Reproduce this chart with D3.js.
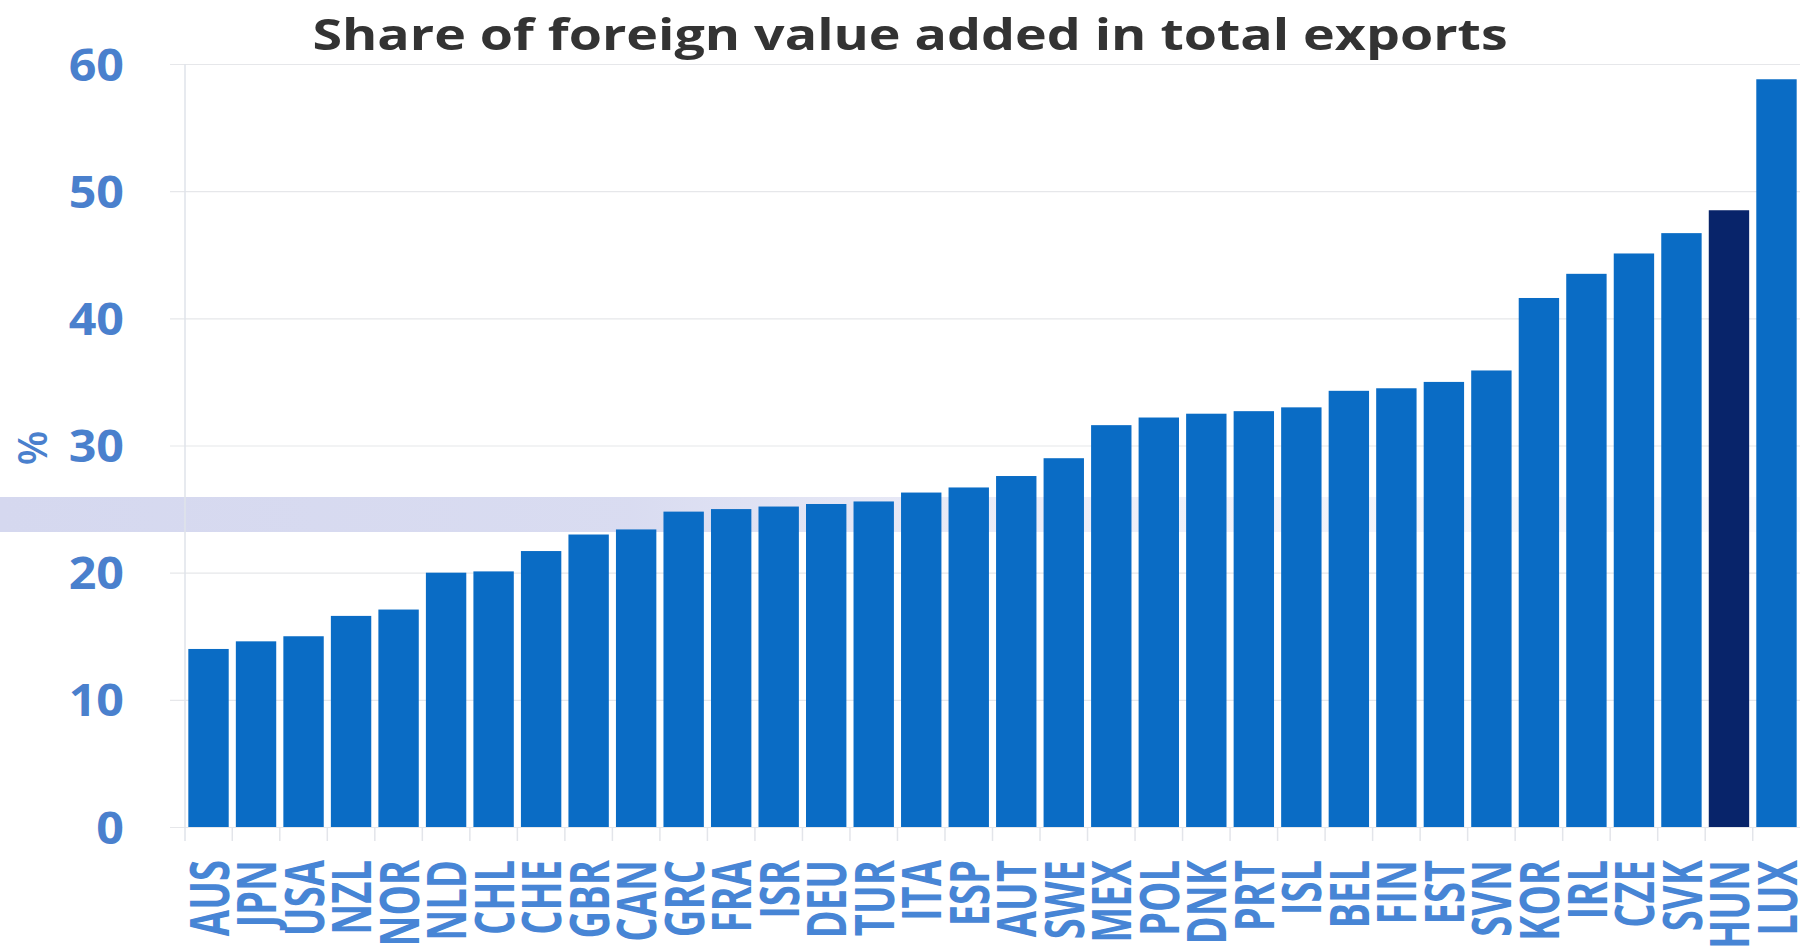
<!DOCTYPE html>
<html>
<head>
<meta charset="utf-8">
<script src="https://cdn.jsdelivr.net/npm/d3@7"></script>
<style>
  html, body { margin: 0; padding: 0; background: #ffffff; }
  svg { display: block; }
</style>
</head>
<body>
<svg id="chart" width="1800" height="948"></svg>
<script>
// Foreign value added as a share of gross exports, by country (%)
const countries = ["AUS","JPN","USA","NZL","NOR","NLD","CHL","CHE","GBR","CAN",
  "GRC","FRA","ISR","DEU","TUR","ITA","ESP","AUT","SWE","MEX",
  "POL","DNK","PRT","ISL","BEL","FIN","EST","SVN","KOR","IRL",
  "CZE","SVK","HUN","LUX"];
const shares = [14.0, 14.6, 15.0, 16.6, 17.1, 20.0, 20.1, 21.7, 23.0, 23.4,
  24.8, 25.0, 25.2, 25.4, 25.6, 26.3, 26.7, 27.6, 29.0, 31.6,
  32.2, 32.5, 32.7, 33.0, 34.3, 34.5, 35.0, 35.9, 41.6, 43.5,
  45.1, 46.7, 48.5, 58.8];
const highlighted = ["HUN"];
const yTicks = [0, 10, 20, 30, 40, 50, 60];
const titleText = "Share of foreign value added in total exports";
const yUnit = "%";

(function draw() {
  const W = 1800, H = 948;
  const pLeft = 185, pRight = 1800, pTop = 64, pBottom = 827;
  const labelBlue = "#4a80cd";
  const font = "'Open Sans', 'Noto Sans', sans-serif";

  const svg = d3.select("#chart");

  const x = d3.scaleBand().domain(countries).range([pLeft, pRight])
    .paddingInner(0.15).paddingOuter(0.07);
  const y = d3.scaleLinear().domain([0, 60]).range([pBottom, pTop]);

  // soft lavender highlight strip across the chart, fading to the right
  const defs = svg.append("defs");
  const grad = defs.append("linearGradient").attr("id", "strip")
    .attr("x1", 0).attr("x2", 1).attr("y1", 0).attr("y2", 0);
  grad.append("stop").attr("offset", "0%").attr("stop-color", "#d5d8ef").attr("stop-opacity", 1);
  grad.append("stop").attr("offset", "35%").attr("stop-color", "#d7daf0").attr("stop-opacity", 0.95);
  grad.append("stop").attr("offset", "55%").attr("stop-color", "#dadcf1").attr("stop-opacity", 0.55);
  grad.append("stop").attr("offset", "80%").attr("stop-color", "#dee0f3").attr("stop-opacity", 0.3);
  grad.append("stop").attr("offset", "100%").attr("stop-color", "#e2e4f4").attr("stop-opacity", 0.15);
  svg.append("rect").attr("x", 0).attr("y", 497).attr("width", W).attr("height", 35)
    .attr("fill", "url(#strip)");

  // horizontal gridlines
  const grid = svg.append("g").attr("transform", `translate(${pLeft - 15},0)`)
    .call(d3.axisLeft(y).tickValues(yTicks).tickSize(-(pRight - pLeft + 15)).tickFormat(""));
  grid.select(".domain").remove();
  grid.selectAll(".tick line").attr("stroke", "#e6e7ea").attr("stroke-width", 1.2);

  // vertical axis line
  svg.append("line").attr("x1", pLeft).attr("x2", pLeft).attr("y1", pTop).attr("y2", pBottom + 14)
    .attr("stroke", "#dfe3ea").attr("stroke-width", 1.5);

  // category separators under the baseline
  const half = x.step() * x.paddingInner() / 2;
  svg.append("g").selectAll("line").data(countries.slice(1))
    .join("line")
    .attr("x1", d => x(d) - half).attr("x2", d => x(d) - half)
    .attr("y1", pBottom).attr("y2", pBottom + 14)
    .attr("stroke", "#e3e5ea").attr("stroke-width", 1.5);

  // bars
  svg.append("g").selectAll("rect").data(countries)
    .join("rect")
    .attr("x", d => x(d))
    .attr("width", x.bandwidth())
    .attr("y", (d, i) => y(shares[i]))
    .attr("height", (d, i) => y(0) - y(shares[i]))
    .attr("fill", d => highlighted.includes(d) ? "#08246a" : "#0a6cc5");

  // y tick labels (slightly widened bold digits)
  svg.append("g").selectAll("text").data(yTicks)
    .join("text")
    .attr("transform", d => `translate(124,${y(d)}) scale(1.1,1)`)
    .attr("text-anchor", "end").attr("dominant-baseline", "central")
    .attr("font-family", font).attr("font-weight", 700).attr("font-size", 44)
    .attr("fill", labelBlue)
    .text(d => d);

  // y unit label
  svg.append("text")
    .attr("transform", "translate(31,448) rotate(-90)")
    .attr("text-anchor", "middle").attr("dominant-baseline", "central")
    .attr("font-family", font).attr("font-weight", 600).attr("font-size", 40)
    .attr("fill", labelBlue)
    .text(yUnit);

  // country labels, vertical
  svg.append("g").selectAll("text").data(countries)
    .join("text")
    .attr("transform", d => `translate(${x(d) + x.bandwidth() / 2},860) rotate(-90) scale(0.72,1)`)
    .attr("text-anchor", "end").attr("dominant-baseline", "central")
    .attr("font-family", font).attr("font-weight", 700).attr("font-size", 53)
    .attr("fill", "#4785d5")
    .text(d => d);

  // title
  svg.append("text")
    .attr("transform", "translate(910,50) scale(1.25,1)")
    .attr("text-anchor", "middle")
    .attr("font-family", font).attr("font-weight", 700).attr("font-size", 43)
    .attr("fill", "#333333")
    .text(titleText);
})();
</script>
</body>
</html>
